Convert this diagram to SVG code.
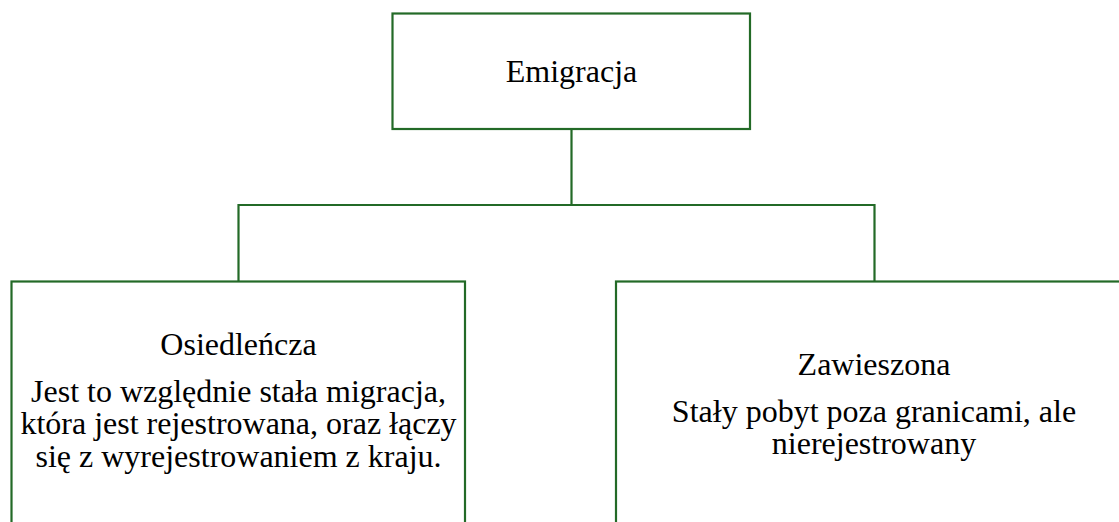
<svg xmlns="http://www.w3.org/2000/svg" width="1119" height="522" viewBox="0 0 1119 522">
<style>
.box{fill:#fff;stroke:#236a27;stroke-width:2.2}
.con{fill:none;stroke:#236a27;stroke-width:2.2}
.t{font-family:'Liberation Serif','Times New Roman',serif;font-size:32px;fill:#000;text-anchor:middle}
</style>
<rect width="1119" height="522" fill="#fff"/>
<g id="connectors">
<path class="con" d="M571.5 129.5 V205 M238.5 282 V205 H874.5 V282"/>
</g>
<g id="emigracja">
<rect class="box" x="392.5" y="13.5" width="357.5" height="115.5"/>
<text class="t" x="571.5" y="81.5">Emigracja</text>
</g>
<g id="osiedlencza">
<rect class="box" x="11.5" y="281.5" width="453.5" height="260"/>
<text class="t" x="238.5" y="355">Osiedleńcza</text>
<text class="t" x="238.5" y="402">Jest to względnie stała migracja,</text>
<text class="t" x="238.5" y="434">która jest rejestrowana, oraz łączy</text>
<text class="t" x="238.5" y="466.5">się z wyrejestrowaniem z kraju.</text>
</g>
<g id="zawieszona">
<rect class="box" x="616" y="281.5" width="520" height="260"/>
<text class="t" x="874" y="375">Zawieszona</text>
<text class="t" x="874" y="421.5">Stały pobyt poza granicami, ale</text>
<text class="t" x="874" y="453.5">nierejestrowany</text>
</g>
</svg>
